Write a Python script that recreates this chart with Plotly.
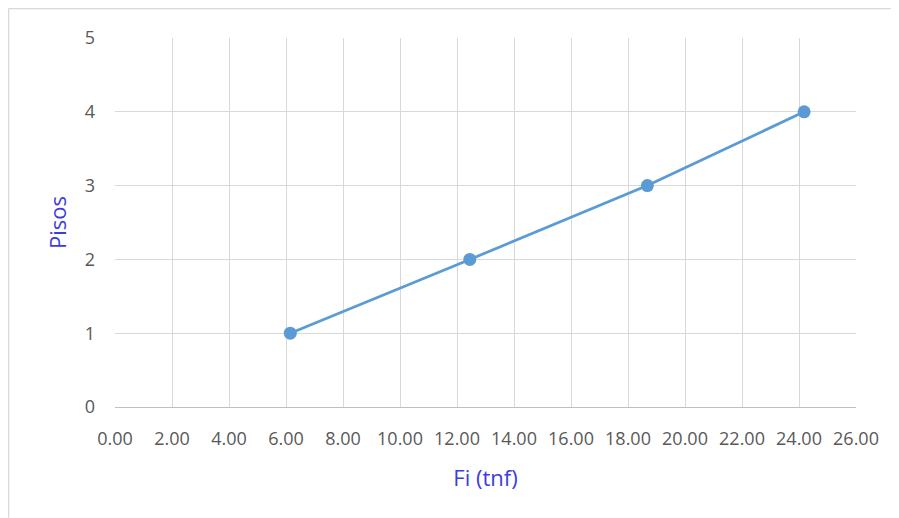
import plotly.graph_objects as go

fi_tnf = [6.15, 12.45, 18.68, 24.18]
pisos = [1, 2, 3, 4]
x_ticks = [0, 2, 4, 6, 8, 10, 12, 14, 16, 18, 20, 22, 24, 26]
y_ticks = [0, 1, 2, 3, 4, 5]

fig = go.Figure()
fig.add_trace(go.Scatter(
    x=fi_tnf, y=pisos, mode="lines+markers",
    line=dict(color="#5b9bd5", width=2.75),
    marker=dict(color="#5b9bd5", size=13),
    showlegend=False,
))

font_fam = "Open Sans, Liberation Sans, sans-serif"
title_col = "#3c3ce0"
fig.update_layout(
    width=891, height=510,
    margin=dict(l=107, r=43, t=30, b=111),
    paper_bgcolor="white", plot_bgcolor="white",
    font=dict(family=font_fam, size=18, color="#595959"),
    xaxis=dict(
        range=[0, 26], tickvals=x_ticks, tickformat=".2f",
        showgrid=True, gridcolor="#d9d9d9", gridwidth=1,
        showline=True, linecolor="#bfbfbf", linewidth=1,
        zeroline=False, ticks="", ticklabelstandoff=15,
        title=dict(text="Fi (tnf)", font=dict(color=title_col, size=22), standoff=22),
    ),
    yaxis=dict(
        range=[0, 5], tickvals=y_ticks,
        showgrid=True, gridcolor="#d9d9d9", gridwidth=1,
        zeroline=False, ticks="", ticklabelstandoff=19,
        title=dict(text="Pisos", font=dict(color=title_col, size=22), standoff=12),
    ),
    shapes=[
        dict(type="line", xref="paper", yref="paper",
             x0=-0.1437, x1=1.06, y0=1.08, y1=1.08,
             line=dict(color="#d9d9d9", width=1.5)),
        dict(type="line", xref="paper", yref="paper",
             x0=-0.1437, x1=-0.1437, y0=-0.3, y1=1.08,
             line=dict(color="#d9d9d9", width=1.5)),
    ],
)

fig.write_html("out.html")
